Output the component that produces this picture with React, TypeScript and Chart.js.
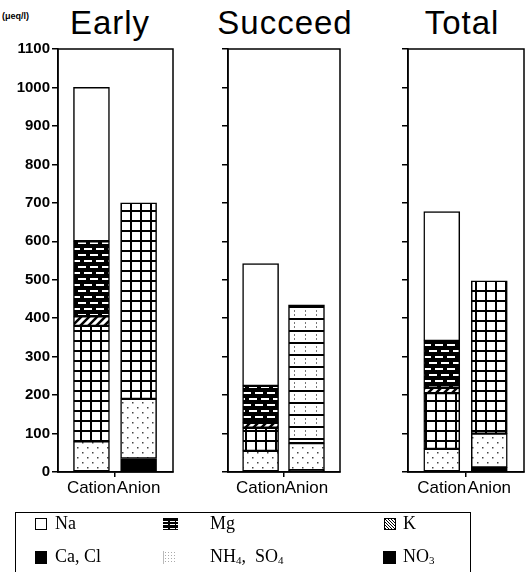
import React, { useEffect, useRef } from 'react';
import { Chart, registerables } from 'chart.js';

Chart.register(...registerables);

// ---------- data ----------
const panelTitles = ['Early', 'Succeed', 'Total'];
const categories = ['Cation', 'Anion'];
const yTickValues = [0, 100, 200, 300, 400, 500, 600, 700, 800, 900, 1000, 1100];
const yUnit = '(μeq/l)';

// cation segments (bottom to top), one value per panel
const nh4Cation = [80, 55, 60];
const caCation = [300, 60, 145];
const kCation = [25, 13, 14];
const mgCation = [195, 96, 122];
const naCation = [400, 318, 336];

// anion segments (bottom to top), one value per panel
const no3Anion = [35, 5, 12];
const so4Anion = [155, 70, 88];
const clAnion = [510, 360, 397];

const legendRow1 = ['Na', 'Mg', 'K'];

// ---------- patterns ----------
function tile(w: number, h: number, draw: (c: CanvasRenderingContext2D) => void) {
  const cv = document.createElement('canvas');
  cv.width = w;
  cv.height = h;
  const c = cv.getContext('2d')!;
  draw(c);
  return c.createPattern(cv, 'repeat')!;
}

function makePatterns() {
  const grid = tile(10, 10, (c) => {
    c.fillStyle = '#fff';
    c.fillRect(0, 0, 10, 10);
    c.fillStyle = '#000';
    c.fillRect(0, 0, 10, 2);
    c.fillRect(0, 0, 2, 10);
  });
  const sparse = tile(11, 12, (c) => {
    c.fillStyle = '#fff';
    c.fillRect(0, 0, 11, 12);
    c.fillStyle = '#000';
    c.fillRect(0, 0, 11, 2);
    c.fillStyle = '#777';
    c.fillRect(0, 4, 1, 2);
    c.fillRect(0, 8, 1, 2);
  });
  const brick = tile(12, 12, (c) => {
    c.fillStyle = '#000';
    c.fillRect(0, 0, 12, 12);
    c.fillStyle = '#fff';
    c.fillRect(0, 2, 8, 2);
    c.fillRect(6, 8, 6, 2);
    c.fillRect(0, 8, 2, 2);
  });
  const hatch = tile(8, 8, (c) => {
    c.fillStyle = '#fff';
    c.fillRect(0, 0, 8, 8);
    c.strokeStyle = '#000';
    c.lineWidth = 2.5;
    c.beginPath();
    c.moveTo(-2, 10);
    c.lineTo(10, -2);
    c.moveTo(-2, 2);
    c.lineTo(2, -2);
    c.moveTo(6, 10);
    c.lineTo(10, 6);
    c.stroke();
  });
  const dots = tile(10, 10, (c) => {
    c.fillStyle = '#fff';
    c.fillRect(0, 0, 10, 10);
    c.fillStyle = '#444';
    c.fillRect(2, 2, 1.5, 1.5);
    c.fillRect(7, 7, 1.5, 1.5);
  });
  return { grid, sparse, brick, hatch, dots };
}

const framePlugin = {
  id: 'frame',
  afterDraw(chart: any) {
    const { ctx, chartArea: a } = chart;
    ctx.save();
    ctx.strokeStyle = '#000';
    ctx.lineWidth = 1.5;
    ctx.strokeRect(a.left, a.top, a.right - a.left, a.bottom - a.top);
    ctx.restore();
  },
};

type PanelProps = {
  index: number;
  left: number;
  top: number;
  width: number;
  height: number;
  yWidth: number;
  padRight: number;
  padTop: number;
  xHeight: number;
  showYLabels: boolean;
};

function Panel(props: PanelProps) {
  const ref = useRef<HTMLCanvasElement>(null);
  useEffect(() => {
    const i = props.index;
    const p = makePatterns();
    const border = { borderColor: '#000', borderWidth: 1.5, borderSkipped: false as const, barThickness: 36 };
    const datasets: any[] = [
      { label: 'NO3', data: [{ x: 1, y: no3Anion[i] }], backgroundColor: '#000', ...border },
      {
        label: 'NH4, SO4',
        data: [{ x: 0, y: nh4Cation[i] }, { x: 1, y: so4Anion[i] }],
        backgroundColor: p.dots,
        ...border,
      },
      {
        label: 'Ca, Cl',
        data: [{ x: 0, y: caCation[i] }, { x: 1, y: clAnion[i] }],
        backgroundColor: [p.grid, i === 1 ? p.sparse : p.grid],
        ...border,
      },
      { label: 'K', data: [{ x: 0, y: kCation[i] }], backgroundColor: p.hatch, ...border },
      { label: 'Mg', data: [{ x: 0, y: mgCation[i] }], backgroundColor: p.brick, ...border },
      { label: 'Na', data: [{ x: 0, y: naCation[i] }], backgroundColor: '#fff', ...border },
    ];
    const chart = new Chart(ref.current!, {
      type: 'bar',
      data: { datasets },
      plugins: [framePlugin],
      options: {
        responsive: false,
        animation: false,
        devicePixelRatio: 1,
        layout: { padding: { top: props.padTop, right: props.padRight, left: 0, bottom: 0 } },
        plugins: { legend: { display: false }, tooltip: { enabled: false } },
        scales: {
          x: {
            type: 'linear',
            stacked: true,
            offset: false,
            min: -0.71,
            max: 1.73,
            afterBuildTicks: (s: any) => {
              s.ticks = [{ value: 0 }, { value: 0.5 }, { value: 1 }];
            },
            afterFit: (s: any) => {
              s.height = props.xHeight;
            },
            ticks: {
              autoSkip: false,
              maxRotation: 0,
              padding: 1,
              color: '#000',
              font: { family: 'Liberation Sans, Arial, sans-serif', size: 17 },
              callback: (v: any) => (v === 0 ? categories[0] : v === 1 ? categories[1] : ''),
            },
            grid: {
              offset: false,
              drawOnChartArea: false,
              tickLength: 5,
              lineWidth: 1.5,
              color: (c: any) => (c.tick && c.tick.value === 0.5 ? '#000' : 'rgba(0,0,0,0)'),
            },
            border: { color: '#000', width: 1.5 },
          },
          y: {
            type: 'linear',
            stacked: true,
            min: yTickValues[0],
            max: yTickValues[yTickValues.length - 1],
            afterBuildTicks: (s: any) => {
              s.ticks = yTickValues.map((v) => ({ value: v }));
            },
            afterFit: (s: any) => {
              s.width = props.yWidth;
            },
            ticks: {
              padding: 2,
              color: '#000',
              font: { family: 'Liberation Sans, Arial, sans-serif', size: 15, weight: 'bold' },
              callback: (v: any) => (props.showYLabels ? String(v) : ''),
            },
            grid: { drawOnChartArea: false, tickLength: 6, lineWidth: 1.5, color: '#000' },
            border: { color: '#000', width: 1.5 },
          },
        },
      } as any,
    });
    return () => chart.destroy();
  }, []);
  return (
    <canvas
      ref={ref}
      width={props.width}
      height={props.height}
      style={{ position: 'absolute', left: props.left, top: props.top, width: props.width, height: props.height }}
    />
  );
}

const titleCenters = [110, 285, 462];

const sym = (left: number, top: number, w: number, h: number, style: React.CSSProperties) => (
  <div style={{ position: 'absolute', left, top, width: w, height: h, boxSizing: 'border-box', ...style }} />
);

export default function App() {
  const serif = '"Liberation Serif", "Times New Roman", serif';
  const txt = (left: number, top: number, content: React.ReactNode) => (
    <div
      style={{
        position: 'absolute',
        left,
        top,
        fontFamily: serif,
        fontSize: 18,
        lineHeight: '18px',
        whiteSpace: 'nowrap',
        color: '#000',
      }}
    >
      {content}
    </div>
  );
  const sub = (s: string) => <span style={{ fontSize: 11, verticalAlign: '-2px' }}>{s}</span>;
  return (
    <div style={{ position: 'fixed', left: 0, top: 0, width: 532, height: 572, background: '#fff', overflow: 'hidden' }}>
      {panelTitles.map((t, k) => (
        <div
          key={t}
          style={{
            position: 'absolute',
            left: titleCenters[k] - 100,
            width: 200,
            top: 6,
            textAlign: 'center',
            fontFamily: '"Liberation Sans", Arial, sans-serif',
            fontSize: 33,
            lineHeight: '33px',
            letterSpacing: 1,
            color: '#000',
          }}
        >
          {t}
        </div>
      ))}
      <div
        style={{
          position: 'absolute',
          left: 2,
          top: 11,
          fontFamily: '"Liberation Sans", Arial, sans-serif',
          fontSize: 9,
          fontWeight: 'bold',
          lineHeight: '10px',
          color: '#000',
        }}
      >
        {yUnit}
      </div>
      <Panel index={0} left={0} top={30} width={182} height={485} yWidth={58} padRight={9} padTop={19} xHeight={43} showYLabels />
      <Panel index={1} left={195} top={30} width={155} height={485} yWidth={33} padRight={10} padTop={19} xHeight={43} showYLabels={false} />
      <Panel index={2} left={375} top={30} width={157} height={485} yWidth={33} padRight={8} padTop={19} xHeight={43} showYLabels={false} />

      <div style={{ position: 'absolute', left: 15, top: 512, width: 456, height: 70, border: '1.5px solid #000', boxSizing: 'border-box' }} />
      {sym(35, 518, 12, 12, { border: '1.5px solid #000', background: '#fff' })}
      {txt(55, 514, legendRow1[0])}
      {sym(163, 518, 15, 12, {
        backgroundColor: '#fff',
        backgroundImage:
          'repeating-linear-gradient(90deg, transparent 0 5px, #000 5px 6.5px), repeating-linear-gradient(180deg, #000 0 2.5px, #fff 2.5px 3.7px)',
      })}
      {txt(210, 514, legendRow1[1])}
      {sym(384, 518, 12, 12, {
        border: '1px solid #000',
        background: 'repeating-linear-gradient(45deg, #000 0 1px, #fff 1px 2.2px)',
      })}
      {txt(403, 514, legendRow1[2])}

      {sym(35, 551, 12, 13, { background: '#000' })}
      {txt(55, 547, 'Ca, Cl')}
      {sym(163, 551, 14, 13, {
        backgroundColor: '#fff',
        backgroundImage: 'radial-gradient(circle, #aaa 0.7px, transparent 1px)',
        backgroundSize: '3px 3px',
        borderLeft: '1px solid #bbb',
      })}
      {txt(210, 547, <>NH{sub('4')},&nbsp;&nbsp;SO{sub('4')}</>)}
      {sym(383, 551, 13, 13, { background: '#000' })}
      {txt(403, 547, <>NO{sub('3')}</>)}
    </div>
  );
}
